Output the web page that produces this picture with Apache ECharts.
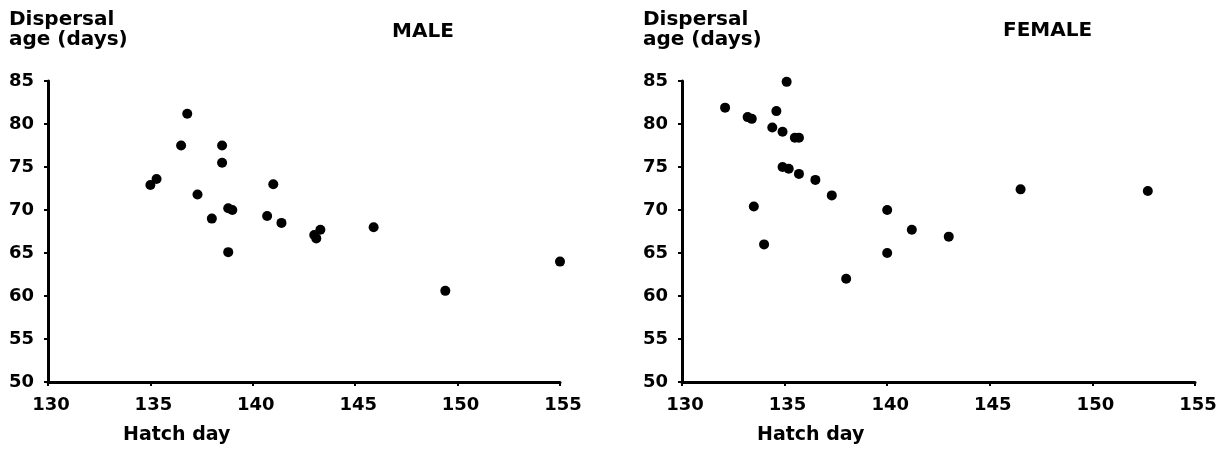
<!DOCTYPE html>
<html>
<head>
<meta charset="utf-8">
<script src="https://cdn.jsdelivr.net/npm/echarts@6/dist/echarts.min.js"></script>
<style>
  html, body { margin: 0; padding: 0; background: #fff; }
  #chart { width: 1224px; height: 449px; }
</style>
</head>
<body>
<div id="chart"></div>
<script>
// hatch day / dispersal age
var maleHatch = [135.0, 135.3, 136.5, 136.8, 137.3, 138.0, 138.5, 138.5, 138.8, 138.8, 139.0, 140.7, 141.0, 141.4, 143.0, 143.1, 143.3, 145.9, 149.4, 155.0];
var maleAge   = [72.9, 73.6, 77.5, 81.2, 71.8, 69.0, 77.5, 75.5, 65.1, 70.2, 70.0, 69.3, 73.0, 68.5, 67.1, 66.7, 67.7, 68.0, 60.6, 64.0];

var femaleHatch = [132.1, 133.2, 133.4, 133.5, 134.0, 134.4, 134.6, 134.9, 135.1, 134.9, 135.2, 135.5, 135.7, 135.7, 136.5, 137.3, 138.0, 140.0, 140.0, 141.2, 143.0, 146.5, 152.7];
var femaleAge   = [81.9, 80.8, 80.6, 70.4, 66.0, 79.6, 81.5, 79.1, 84.9, 75.0, 74.8, 78.4, 78.4, 74.2, 73.5, 71.7, 62.0, 70.0, 65.0, 67.7, 66.9, 72.4, 72.2];

var xTicks = [130, 135, 140, 145, 150, 155];
var yTicks = [50, 55, 60, 65, 70, 75, 80, 85];

var FONT = '"DejaVu Sans", "Liberation Sans", Arial, sans-serif';

function pairs(xs, ys) {
  var out = [];
  for (var i = 0; i < xs.length; i++) out.push([xs[i], ys[i]]);
  return out;
}

function xAxisCfg(idx) {
  return {
    type: 'value', gridIndex: idx,
    min: xTicks[0], max: xTicks[xTicks.length - 1], interval: 5,
    axisLine: { onZero: false, lineStyle: { color: '#000', width: 3 } },
    axisTick: { show: true, length: 4, lineStyle: { color: '#000', width: 2 } },
    axisLabel: { color: '#000', fontSize: 18, fontWeight: 'bold', fontFamily: FONT, margin: 14, padding: [0, 0, 0, 6] },
    splitLine: { show: false }
  };
}
function yAxisCfg(idx) {
  return {
    type: 'value', gridIndex: idx,
    min: yTicks[0], max: yTicks[yTicks.length - 1], interval: 5,
    axisLine: { onZero: false, lineStyle: { color: '#000', width: 3 } },
    axisTick: { show: true, length: 4, lineStyle: { color: '#000', width: 2 } },
    axisLabel: { color: '#000', fontSize: 18, fontWeight: 'bold', fontFamily: FONT, margin: 14 },
    splitLine: { show: false }
  };
}
function txt(text, left, top, size) {
  return {
    text: text, left: left, top: top, padding: 0,
    textStyle: { color: '#000', fontSize: size, fontWeight: 'bold', fontFamily: FONT, lineHeight: 20 }
  };
}

var chart = echarts.init(document.getElementById('chart'));
chart.setOption({
  animation: false,
  backgroundColor: '#fff',
  title: [
    txt('Dispersal\nage (days)', 9, 10, 20),
    txt('MALE', 392, 22, 20),
    txt('Hatch day', 123, 425, 19),
    txt('Dispersal\nage (days)', 643, 10, 20),
    txt('FEMALE', 1003, 21, 20),
    txt('Hatch day', 757, 425, 19)
  ],
  grid: [
    { left: 48, top: 81, width: 512, height: 301 },
    { left: 682, top: 81, width: 513, height: 301 }
  ],
  xAxis: [xAxisCfg(0), xAxisCfg(1)],
  yAxis: [yAxisCfg(0), yAxisCfg(1)],
  series: [
    {
      name: 'MALE', type: 'scatter', xAxisIndex: 0, yAxisIndex: 0,
      symbol: 'circle', symbolSize: 10,
      itemStyle: { color: '#000', opacity: 1 },
      data: pairs(maleHatch, maleAge)
    },
    {
      name: 'FEMALE', type: 'scatter', xAxisIndex: 1, yAxisIndex: 1,
      symbol: 'circle', symbolSize: 10,
      itemStyle: { color: '#000', opacity: 1 },
      data: pairs(femaleHatch, femaleAge)
    }
  ]
});
</script>
</body>
</html>
